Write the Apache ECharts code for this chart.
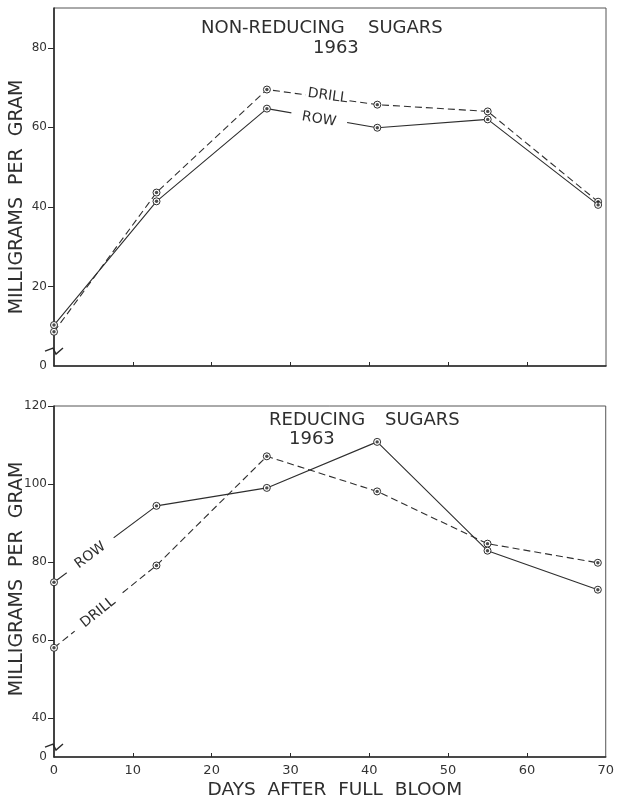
<!DOCTYPE html>
<html>
<head>
<meta charset="utf-8">
<script src="https://cdn.jsdelivr.net/npm/echarts@6/dist/echarts.min.js"></script>
<style>
  html, body { margin: 0; padding: 0; background: #fff; }
  #main { width: 617px; height: 801px; }
</style>
</head>
<body>
<div id="main"></div>
<script>
// Sampling dates (days after full bloom)
const days = [0, 13, 27, 41, 55, 69];

// Non-reducing sugars, mg per gram, 1963
const nonReducingDrill = [8.6, 43.6, 69.5, 65.7, 64.0, 41.3];
const nonReducingRow   = [10.3, 41.4, 64.7, 59.9, 62.0, 40.5];

// Reducing sugars, mg per gram, 1963
const reducingDrill = [58.0, 79.1, 107.1, 98.1, 84.7, 79.8];
const reducingRow   = [74.8, 94.4, 99.0, 110.8, 82.9, 72.9];

// Axis ticks and labels
const dayTicks = [10, 20, 30, 40, 50, 60];
const dayLabels = [0, 10, 20, 30, 40, 50, 60, 70];
const nonReducingLabels = [0, 20, 40, 60, 80];
const reducingLabels = [30, 40, 60, 80, 100, 120]; // 30 sits at the broken base and reads "0"

const FONT = 'DejaVu Sans';
const INK = '#2e2e2e';

const pairs = (xs, ys) => xs.map((x, i) => [x, ys[i]]);

const chart = echarts.init(document.getElementById('main'));

function lineSeries(name, grid, values, dashed, note) {
  const s = {
    name: name,
    type: 'line',
    xAxisIndex: grid,
    yAxisIndex: grid,
    data: pairs(days, values),
    symbol: 'circle',
    symbolSize: 7,
    showSymbol: true,
    itemStyle: { color: '#fff', borderColor: INK, borderWidth: 1 },
    lineStyle: { color: INK, width: 1.1, type: dashed ? [7, 4] : 'solid' },
    z: 3,
    animation: false
  };
  if (note) {
    s.markPoint = {
      symbol: 'circle',
      symbolSize: 1,
      itemStyle: { color: 'rgba(0,0,0,0)' },
      animation: false,
      z: 5,
      data: [{
        coord: note.coord,
        label: {
          show: true,
          position: 'inside',
          formatter: note.text,
          rotate: note.rotate,
          fontFamily: FONT,
          fontSize: 14,
          color: INK,
          backgroundColor: '#fff',
          padding: note.padding
        }
      }]
    };
  }
  return s;
}

function dotSeries(grid, values) {
  return {
    type: 'scatter',
    xAxisIndex: grid,
    yAxisIndex: grid,
    data: pairs(days, values),
    symbol: 'circle',
    symbolSize: 3.4,
    itemStyle: { color: '#1e1e1e' },
    z: 4,
    silent: true,
    animation: false
  };
}

const yAxisBase = {
  type: 'value',
  interval: 10,
  splitLine: { show: false },
  axisLine: { show: true, lineStyle: { color: '#2a2a2a', width: 1.6 } },
  axisTick: { show: true, length: 6, lineStyle: { color: '#2a2a2a', width: 1 } },
  axisLabel: { fontFamily: FONT, fontSize: 12, color: '#333', margin: 7 }
};

const option = {
  backgroundColor: '#fff',
  animation: false,
  grid: [
    { left: 54, top: 8, width: 552, height: 358, show: true, borderColor: '#555', borderWidth: 1 },
    { left: 54, top: 406, width: 552, height: 354, show: true, borderColor: '#555', borderWidth: 1 }
  ],
  xAxis: [
    {
      gridIndex: 0, type: 'value', min: 0, max: 70, interval: 10,
      splitLine: { show: false },
      axisLine: { show: true, lineStyle: { color: '#2a2a2a', width: 1.6 } },
      axisTick: { show: true, inside: true, length: 4, customValues: dayTicks, lineStyle: { color: '#2a2a2a' } },
      axisLabel: { show: false }
    },
    {
      gridIndex: 1, type: 'value', min: 0, max: 70, interval: 10,
      splitLine: { show: false },
      axisLine: { show: true, lineStyle: { color: '#2a2a2a', width: 1.6 } },
      axisTick: { show: true, inside: true, length: 4, customValues: dayTicks, lineStyle: { color: '#2a2a2a' } },
      axisLabel: { customValues: dayLabels, fontFamily: FONT, fontSize: 13, color: '#333', margin: 7 },
      name: 'DAYS  AFTER  FULL  BLOOM',
      nameLocation: 'middle',
      nameGap: 24,
      nameTextStyle: { fontFamily: FONT, fontSize: 18.5, color: INK, padding: [0, 0, 0, 10] }
    }
  ],
  yAxis: [
    Object.assign({}, yAxisBase, {
      gridIndex: 0, min: 0, max: 90,
      axisTick: Object.assign({}, yAxisBase.axisTick, { customValues: [20, 40, 60, 80] }),
      axisLabel: Object.assign({}, yAxisBase.axisLabel, { customValues: nonReducingLabels })
    }),
    Object.assign({}, yAxisBase, {
      gridIndex: 1, min: 30, max: 120,
      axisTick: Object.assign({}, yAxisBase.axisTick, { customValues: [40, 60, 80, 100, 120] }),
      axisLabel: Object.assign({}, yAxisBase.axisLabel, {
        customValues: reducingLabels,
        formatter: v => (v === 30 ? '0' : String(v))
      })
    })
  ],
  series: [
    lineSeries('DRILL', 0, nonReducingDrill, true,
      { text: 'DRILL', coord: [34.7, 67.9], rotate: -7.8, padding: [1, 2] }),
    lineSeries('ROW', 0, nonReducingRow, false,
      { text: 'ROW', coord: [33.6, 62.0], rotate: -9.8, padding: [1, 11] }),
    dotSeries(0, nonReducingDrill),
    dotSeries(0, nonReducingRow),
    lineSeries('DRILL', 1, reducingDrill, true,
      { text: 'DRILL', coord: [5.6, 67.1], rotate: 39, padding: [1, 10] }),
    lineSeries('ROW', 1, reducingRow, false,
      { text: 'ROW', coord: [4.6, 81.7], rotate: 37, padding: [1, 12] }),
    dotSeries(1, reducingDrill),
    dotSeries(1, reducingRow)
  ]
};

chart.setOption(option);

// Axis break marks and free text
function breakMark(gridIndex, value) {
  const p = chart.convertToPixel({ xAxisIndex: gridIndex, yAxisIndex: gridIndex }, [0, value]);
  const x = p[0], y = p[1];
  return {
    type: 'polyline',
    shape: { points: [[x - 9, y + 1], [x - 1, y - 2], [x + 2, y + 4], [x + 9, y - 2]] },
    style: { stroke: '#2a2a2a', lineWidth: 1.4, fill: null },
    z: 10
  };
}

function label(text, x, y, size) {
  return {
    type: 'text',
    x: x, y: y,
    style: { text: text, fontFamily: FONT, fontSize: size, fill: INK, verticalAlign: 'middle' },
    z: 10
  };
}

function axisTitle(y) {
  return {
    type: 'text',
    x: 17, y: y,
    rotation: Math.PI / 2,
    style: { text: 'MILLIGRAMS  PER  GRAM', fontFamily: FONT, fontSize: 19, fill: INK, align: 'center', verticalAlign: 'middle' },
    z: 10
  };
}

chart.setOption({
  graphic: [
    breakMark(0, 4),
    breakMark(1, 32.8),
    label('NON-REDUCING', 201, 28, 18),
    label('SUGARS', 368, 28, 18),
    label('1963', 313, 48, 18),
    label('REDUCING', 269, 420, 18),
    label('SUGARS', 385, 420, 18),
    label('1963', 289, 439, 18),
    axisTitle(197),
    axisTitle(579)
  ]
});
</script>
</body>
</html>
